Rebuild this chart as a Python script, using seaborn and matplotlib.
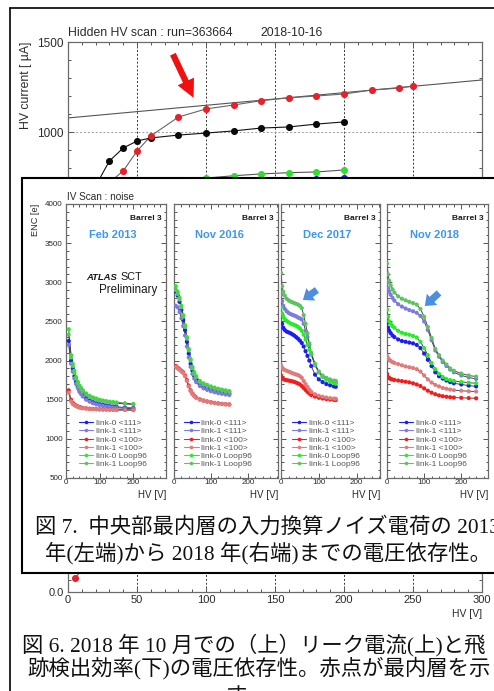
import numpy as np
import pandas as pd
import matplotlib
matplotlib.use("Agg")
import matplotlib.pyplot as plt
from matplotlib.patches import Rectangle
from matplotlib.lines import Line2D
from matplotlib.ticker import MultipleLocator
import seaborn as sns

# ---------------- leakage current scan, run 363664 ----------------
hv_red = [10, 20, 30, 40, 50, 60, 80, 100, 120, 140, 160, 180, 200, 220, 240, 250]
cur_red = [300, 550, 720, 783, 894, 978, 1083, 1128, 1150, 1174, 1190, 1200, 1211, 1233, 1244, 1256]
hv_black = [10, 20, 30, 40, 50, 60, 80, 100, 120, 140, 160, 180, 200]
cur_black = [450, 700, 839, 911, 950, 967, 983, 994, 1006, 1022, 1028, 1044, 1056]
hv_green = [50, 60, 80, 100, 120, 140, 160, 180, 200]
cur_green = [660, 700, 728, 744, 757, 767, 774, 778, 789]
hv_blue = [100, 120, 140, 160, 180, 200]
cur_blue = [700, 712, 722, 730, 738, 744]
fit_hv = [0, 300]
fit_cur = [1078, 1289]
current_ticks = [0, 500, 1000, 1500]
current_tick_labels = ["", "", "1000", "1500"]

# hit efficiency of the innermost layer
hv_eff = [5, 15, 25, 35, 50, 100, 150, 200, 250]
eff_red = [0.055, 0.12, 0.45, 0.8, 0.95, 0.99, 0.99, 0.99, 0.99]
eff_ticks = [0.0, 0.2, 0.4, 0.6, 0.8, 1.0]
eff_tick_labels = ["0.0", "", "", "", "", ""]

# ---------------- noise (ENC) vs HV, Barrel 3 ----------------
series_names = ["link-0 <111>", "link-1 <111>", "link-0 <100>",
                "link-1 <100>", "link-0 Loop96", "link-1 Loop96"]
series_colors = ["#1c1cf5", "#7b7be0", "#f51c1c", "#e07b7b", "#22f022", "#5cc45c"]

hv_feb2013 = [8, 15, 20, 25, 30, 35, 40, 45, 50, 60, 70, 80, 90, 100, 110, 120,
              130, 140, 150, 175, 200]
enc_feb2013 = {
    "link-0 <111>": [2250, 2000, 1900, 1800, 1730, 1670, 1620, 1590, 1560, 1520, 1490,
                     1470, 1455, 1445, 1435, 1428, 1420, 1415, 1410, 1400, 1395],
    "link-1 <111>": [2200, 1960, 1860, 1770, 1700, 1650, 1600, 1570, 1540, 1500, 1475,
                     1455, 1440, 1430, 1420, 1413, 1407, 1402, 1398, 1390, 1385],
    "link-0 <100>": [1620, 1500, 1460, 1440, 1425, 1415, 1405, 1400, 1395, 1390, 1385,
                     1383, 1380, 1378, 1376, 1375, 1373, 1372, 1371, 1370, 1368],
    "link-1 <100>": [1590, 1480, 1445, 1430, 1418, 1408, 1400, 1395, 1390, 1386, 1382,
                     1380, 1378, 1376, 1374, 1373, 1372, 1371, 1370, 1369, 1367],
    "link-0 Loop96": [2400, 2070, 1960, 1870, 1790, 1730, 1680, 1650, 1620, 1580, 1550,
                      1530, 1515, 1500, 1490, 1482, 1475, 1470, 1465, 1455, 1445],
    "link-1 Loop96": [2330, 2040, 1930, 1840, 1770, 1710, 1665, 1635, 1605, 1565, 1538,
                      1518, 1503, 1490, 1480, 1472, 1466, 1460, 1455, 1447, 1440],
}

hv_nov2016 = [5, 10, 15, 20, 25, 30, 35, 40, 45, 50, 55, 60, 70, 80, 90, 100, 110,
              120, 130, 140, 150]
enc_nov2016 = {
    "link-0 <111>": [2880, 2830, 2750, 2650, 2520, 2390, 2240, 2090, 1960, 1870, 1800,
                     1755, 1700, 1670, 1650, 1632, 1618, 1605, 1595, 1585, 1578],
    "link-1 <111>": [2700, 2680, 2620, 2540, 2440, 2320, 2180, 2040, 1920, 1830, 1770,
                     1725, 1675, 1645, 1625, 1608, 1595, 1584, 1575, 1566, 1560],
    "link-0 <100>": [1930, 1910, 1890, 1870, 1850, 1810, 1750, 1680, 1620, 1580, 1550,
                     1530, 1505, 1490, 1478, 1468, 1460, 1453, 1447, 1442, 1440],
    "link-1 <100>": [1920, 1900, 1880, 1860, 1840, 1800, 1740, 1670, 1612, 1572, 1545,
                     1525, 1500, 1486, 1475, 1465, 1457, 1450, 1445, 1440, 1437],
    "link-0 Loop96": [2950, 2880, 2800, 2700, 2580, 2450, 2300, 2150, 2020, 1920, 1850,
                      1800, 1740, 1710, 1690, 1670, 1655, 1640, 1630, 1620, 1610],
    "link-1 Loop96": [2900, 2850, 2780, 2680, 2560, 2430, 2280, 2130, 2000, 1900, 1830,
                      1785, 1725, 1695, 1675, 1655, 1640, 1628, 1618, 1608, 1600],
}

hv_dec2017 = [0, 3, 6, 10, 15, 20, 25, 30, 35, 40, 45, 50, 55, 60, 65, 70, 75, 80,
              90, 100, 110, 120, 130, 140, 145]
enc_dec2017 = {
    "link-0 <111>": [2560, 2470, 2420, 2390, 2370, 2360, 2350, 2335, 2320, 2300, 2280,
                     2255, 2225, 2180, 2120, 2060, 2000, 1930, 1820, 1760, 1725, 1700,
                     1685, 1670, 1665],
    "link-1 <111>": [2840, 2760, 2700, 2660, 2630, 2610, 2595, 2585, 2575, 2565, 2550,
                     2540, 2525, 2470, 2380, 2300, 2200, 2080, 1940, 1850, 1800, 1770,
                     1745, 1730, 1725],
    "link-0 <100>": [1810, 1780, 1765, 1755, 1750, 1745, 1740, 1735, 1728, 1718, 1708,
                     1695, 1675, 1650, 1625, 1600, 1580, 1560, 1540, 1525, 1515, 1508,
                     1502, 1498, 1495],
    "link-1 <100>": [1940, 1910, 1890, 1880, 1870, 1860, 1850, 1840, 1830, 1822, 1815,
                     1800, 1780, 1740, 1700, 1665, 1630, 1600, 1570, 1550, 1538, 1528,
                     1520, 1515, 1512],
    "link-0 Loop96": [2680, 2600, 2560, 2530, 2505, 2490, 2475, 2465, 2455, 2445, 2430,
                      2410, 2380, 2330, 2270, 2200, 2140, 2080, 1960, 1850, 1790, 1755,
                      1730, 1712, 1705],
    "link-1 Loop96": [3120, 2950, 2880, 2830, 2790, 2770, 2755, 2745, 2735, 2725, 2715,
                      2700, 2670, 2580, 2470, 2350, 2220, 2100, 1950, 1860, 1810, 1780,
                      1760, 1745, 1740],
}

hv_nov2018 = [0, 3, 6, 10, 15, 20, 30, 40, 50, 60, 70, 80, 90, 100, 110, 120, 130,
              140, 150, 160, 170, 180, 200, 220, 240]
enc_nov2018 = {
    "link-0 <111>": [2480, 2420, 2380, 2350, 2320, 2300, 2270, 2250, 2240, 2230, 2220,
                     2200, 2160, 2090, 2010, 1930, 1850, 1800, 1770, 1745, 1725, 1710,
                     1695, 1680, 1670],
    "link-1 <111>": [2990, 2920, 2880, 2840, 2800, 2765, 2720, 2690, 2665, 2645, 2630,
                     2610, 2570, 2500, 2390, 2260, 2130, 2050, 1980, 1930, 1885, 1850,
                     1810, 1785, 1765],
    "link-0 <100>": [1830, 1790, 1775, 1765, 1758, 1752, 1745, 1738, 1730, 1722, 1710,
                     1695, 1675, 1645, 1615, 1590, 1570, 1555, 1545, 1538, 1532, 1528,
                     1524, 1521, 1518],
    "link-1 <100>": [2060, 2030, 2010, 1995, 1980, 1970, 1955, 1940, 1925, 1915, 1905,
                     1890, 1860, 1810, 1760, 1720, 1690, 1670, 1650, 1640, 1630, 1622,
                     1615, 1608, 1605],
    "link-0 Loop96": [2650, 2560, 2500, 2470, 2440, 2420, 2380, 2355, 2340, 2330, 2315,
                      2295, 2240, 2160, 2070, 1970, 1890, 1830, 1790, 1765, 1750, 1740,
                      1728, 1718, 1710],
    "link-1 Loop96": [3240, 3100, 3020, 2960, 2910, 2870, 2820, 2790, 2770, 2750, 2735,
                      2715, 2660, 2560, 2430, 2290, 2150, 2070, 2000, 1950, 1900, 1870,
                      1835, 1810, 1795],
}

panel_titles = ["Feb 2013", "Nov 2016", "Dec 2017", "Nov 2018"]
panel_hv = [hv_feb2013, hv_nov2016, hv_dec2017, hv_nov2018]
panel_enc = [enc_feb2013, enc_nov2016, enc_dec2017, enc_nov2018]

caption7 = ["図 7.  中央部最内層の入力換算ノイズ電荷の 2013",
            "年(左端)から 2018 年(右端)までの電圧依存性。"]
caption6 = ["図 6. 2018 年 10 月での（上）リーク電流(上)と飛",
            "跡検出効率(下)の電圧依存性。赤点が最内層を示",
            "す。"]

# ---------------- layout helpers ----------------
W, H = 494, 691


def frame(left, top, right, bottom):
    return [left / W, 1 - bottom / H, (right - left) / W, (bottom - top) / H]


def root_style(ax, xmaj, xmin, ymaj, ymin, size, maj=4, mnr=2.2):
    ax.xaxis.set_major_locator(MultipleLocator(xmaj))
    ax.xaxis.set_minor_locator(MultipleLocator(xmin))
    ax.yaxis.set_major_locator(MultipleLocator(ymaj))
    ax.yaxis.set_minor_locator(MultipleLocator(ymin))
    ax.tick_params(which="both", direction="in", top=True, right=True,
                   color="#555555", labelcolor="#2a2a2a", labelsize=size, width=0.7)
    ax.tick_params(which="major", length=maj)
    ax.tick_params(which="minor", length=mnr)
    for s in ax.spines.values():
        s.set_color("#6a6a6a")
        s.set_linewidth(0.9)
    ax.set_xlabel("")
    ax.set_ylabel("")


sns.set_theme(style="ticks")
plt.rcParams["font.family"] = ["Liberation Sans", "DejaVu Sans"]
serif_cjk = ["Liberation Serif", "Noto Sans CJK JP"]
CAP = 15.4

fig = plt.figure(figsize=(W / 100, H / 100), dpi=100)

# page border
fig.add_artist(Line2D([10 / W, 10 / W], [0, 1 - 8 / H], transform=fig.transFigure,
                      color="black", lw=1.2))
fig.add_artist(Line2D([10 / W, 1], [1 - 8 / H, 1 - 8 / H], transform=fig.transFigure,
                      color="black", lw=1.2))

# ---------------- HV current panel ----------------
ax_c = fig.add_axes(frame(68, 42, 482, 312))
ax_c.grid(axis="x", which="major", color="#333333", ls=(0, (2, 2)), lw=0.7)
ax_c.grid(axis="y", which="major", color="#9a9a9a", ls=(0, (2, 2)), lw=0.7)
sns.lineplot(x=fit_hv, y=fit_cur, color="#555555", lw=0.8, ax=ax_c)
sns.lineplot(x=hv_red, y=cur_red, color="#666666", lw=0.8, ax=ax_c)
sns.lineplot(x=hv_black, y=cur_black, color="#111111", lw=0.8, ax=ax_c)
sns.lineplot(x=hv_green, y=cur_green, color="#555555", lw=0.8, ax=ax_c)
sns.lineplot(x=hv_blue, y=cur_blue, color="#555555", lw=0.8, ax=ax_c)
sns.scatterplot(x=hv_blue, y=cur_blue, color="#2020d0", s=26, linewidth=0, zorder=3, ax=ax_c)
sns.scatterplot(x=hv_green, y=cur_green, color="#30e030", s=26, linewidth=0, zorder=3, ax=ax_c)
sns.scatterplot(x=hv_black, y=cur_black, color="#0a0a0a", s=26, linewidth=0, zorder=3, ax=ax_c)
sns.scatterplot(x=hv_red, y=cur_red, color="#e8202a", s=26, linewidth=0, zorder=3, ax=ax_c)
root_style(ax_c, 50, 10, 500, 100, 8.5)
ax_c.set_yticks(current_ticks, labels=current_tick_labels)
ax_c.set_xlim(0, 300)
ax_c.set_ylim(0, 1500)
ax_c.tick_params(labelbottom=False, pad=3)
ax_c.set_ylabel("HV current [ µA]", fontsize=8.8, color="#2a2a2a", loc="top")
ax_c.yaxis.label.set_verticalalignment("center")
ax_c.yaxis.set_label_coords(-0.101, 1.0)
ax_c.annotate("", xy=(91, 1190), xytext=(76, 1432),
              arrowprops=dict(arrowstyle="simple,head_width=1.3,head_length=1.3,tail_width=0.45",
                              color="#f01010", lw=0, mutation_scale=10, shrinkA=0, shrinkB=0))
fig.text(68 / W, 1 - 33 / H, "Hidden HV scan : run=363664", fontsize=8.8,
         color="#2a2a2a", va="center", ha="left")
fig.text(260 / W, 1 - 33 / H, "2018-10-16", fontsize=8.8,
         color="#2a2a2a", va="center", ha="left")

# ---------------- efficiency panel ----------------
ax_e = fig.add_axes(frame(68, 330, 482, 592))
ax_e.grid(axis="x", which="major", color="#333333", ls=(0, (2, 2)), lw=0.7)
sns.lineplot(x=hv_eff, y=eff_red, color="#666666", lw=0.8, ax=ax_e)
sns.scatterplot(x=hv_eff, y=eff_red, color="#e8202a", s=26, linewidth=0, zorder=3, ax=ax_e)
root_style(ax_e, 50, 10, 0.2, 0.05, 8)
ax_e.set_yticks(eff_ticks, labels=eff_tick_labels)
ax_e.set_xlim(0, 300)
ax_e.set_ylim(0, 1.05)
ax_e.tick_params(axis="x", pad=2.5)
ax_e.tick_params(axis="y", pad=3)
ax_e.set_xlabel("HV [V]", fontsize=7.5, color="#2a2a2a", loc="right")
ax_e.xaxis.label.set_verticalalignment("center")
ax_e.xaxis.set_label_coords(1.0, -0.084)

# ---------------- ENC inset box ----------------
fig.add_artist(Rectangle((22 / W, 1 - 573 / H), 600 / W, (573 - 178) / H,
                         transform=fig.transFigure, facecolor="white",
                         edgecolor="black", lw=1.5, zorder=5))

panel_px = [(66, 166), (174, 278), (281, 380), (387, 488)]
panel_xmax = [297, 282, 262, 272]
title_x = [0.47, 0.44, 0.47, 0.47]
legend_x = [0.13, 0.10, 0.11, 0.12]
palette = dict(zip(series_names, series_colors))
blue_arrows = {2: ((95, 2902), (58, 2774)), 3: ((140, 2864), (102, 2697))}

for i in range(4):
    left, right = panel_px[i]
    ax = fig.add_axes(frame(left, 204, right, 478))
    ax.set_zorder(6)
    df = pd.DataFrame([(v, e, name) for name in series_names
                       for v, e in zip(panel_hv[i], panel_enc[i][name])],
                      columns=["HV", "ENC", "link"])
    sns.lineplot(data=df, x="HV", y="ENC", units="link", estimator=None,
                 color="#4a4a4a", lw=0.7, ax=ax)
    sns.scatterplot(data=df, x="HV", y="ENC", hue="link", palette=palette,
                    s=9, linewidth=0, legend=False, zorder=3, ax=ax)
    ax.set_xlim(0, panel_xmax[i])
    ax.set_ylim(500, 4000)
    root_style(ax, 100, 20, 500, 100, 5.8, maj=3.5, mnr=1.8)
    ax.tick_params(axis="x", pad=1)
    ax.tick_params(axis="y", pad=2.4, labelleft=(i == 0))
    ax.set_xlabel("HV [V]", fontsize=7, color="#2a2a2a", loc="right")
    ax.xaxis.label.set_verticalalignment("center")
    ax.xaxis.set_label_coords(1.0, -0.062)
    if i == 0:
        ax.set_ylabel("ENC [e]", fontsize=6.6, color="#2a2a2a", loc="top")
        ax.yaxis.label.set_verticalalignment("center")
        ax.yaxis.set_label_coords(-0.31, 1.0)
        ax.text(0.51, 1 - 73 / 274, "ATLAS", fontsize=6.8, fontweight="bold",
                fontstyle="italic", color="#1a1a1a", va="center", ha="right",
                transform=ax.transAxes)
        ax.text(0.54, 1 - 73 / 274, "SCT", fontsize=7.8, color="#1a1a1a",
                va="center", ha="left", transform=ax.transAxes)
        ax.text(0.91, 1 - 86 / 274, "Preliminary", fontsize=8.4, color="#1a1a1a",
                va="center", ha="right", transform=ax.transAxes)
    ax.text(0.96, 1 - 15 / 274, "Barrel 3", fontsize=6, fontweight="bold",
            color="#1a1a1a", ha="right", va="center", transform=ax.transAxes)
    ax.text(title_x[i], 1 - 31 / 274, panel_titles[i], fontsize=8, fontweight="bold",
            color="#3c96f0", ha="center", va="center", transform=ax.transAxes)
    if i in blue_arrows:
        tail, head = blue_arrows[i]
        ax.annotate("", xy=head, xytext=tail,
                    arrowprops=dict(arrowstyle="simple,head_width=1.1,head_length=0.7,tail_width=0.5",
                                    color="#4a8fe0", lw=0, mutation_scale=10,
                                    shrinkA=0, shrinkB=0))
    handles = [Line2D([], [], color=c, marker="o", ms=2.6, lw=0.8, markeredgewidth=0)
               for c in series_colors]
    leg = ax.legend(handles, series_names, loc="lower left",
                    bbox_to_anchor=(legend_x[i], 0.035), frameon=False, fontsize=6,
                    labelspacing=0.05, handlelength=1.7, handletextpad=0.3,
                    borderpad=0, borderaxespad=0)
    for t in leg.get_texts():
        t.set_color("#555555")

fig.text(67 / W, 1 - 197 / H, "IV Scan : noise", fontsize=7.2, color="#2a2a2a",
         va="center", ha="left", zorder=7)

# captions
fig.text(35 / W, 1 - 527 / H, caption7[0], fontsize=CAP, family=serif_cjk,
         color="#111111", va="center", ha="left", zorder=7)
fig.text(45 / W, 1 - 553 / H, caption7[1], fontsize=CAP, family=serif_cjk,
         color="#111111", va="center", ha="left", zorder=7)
fig.text(22 / W, 1 - 645 / H, caption6[0], fontsize=CAP, family=serif_cjk,
         color="#111111", va="center", ha="left")
fig.text(27 / W, 1 - 668 / H, caption6[1], fontsize=CAP, family=serif_cjk,
         color="#111111", va="center", ha="left")
fig.text(247 / W, 1 - 697 / H, caption6[2], fontsize=CAP, family=serif_cjk,
         color="#111111", va="center", ha="center")

fig.savefig("out.png", dpi=100)
